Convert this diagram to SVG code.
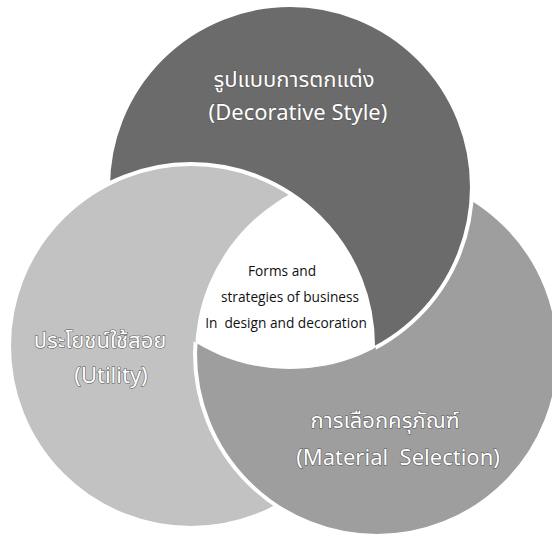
<svg xmlns="http://www.w3.org/2000/svg" width="552" height="539" viewBox="0 0 552 539">
  <style>
    .ring { stroke: #ffffff; stroke-width: 4; }
    .top { fill: #6b6b6b; }
    .left { fill: #c2c2c2; }
    .br { fill: #9e9e9e; }
    .lbl { font-family: "Noto Sans", "Noto Sans Thai", "Open Sans", "DejaVu Sans", sans-serif; font-size: 22px; fill: #ffffff; stroke: #555555; stroke-width: 1.1; paint-order: stroke; text-anchor: middle; }
    .mid { font-family: "Open Sans", "Noto Sans", sans-serif; font-size: 13.7px; fill: #111111; text-anchor: middle; }
  </style>
  <defs>
    <clipPath id="clipTop"><circle cx="290" cy="187" r="182"/></clipPath>
    <clipPath id="clipLeft"><circle cx="191" cy="346" r="182"/></clipPath>
    <mask id="maskBrOverLeft" maskUnits="userSpaceOnUse" x="0" y="0" width="552" height="539">
      <circle cx="191" cy="346" r="185" fill="#ffffff"/>
      <circle cx="290" cy="187" r="182" fill="#000000"/>
    </mask>
  </defs>

  <g id="node-material">
    <circle class="br ring" cx="377" cy="354" r="182"/>
  </g>
  <g id="node-decorative">
    <circle class="top ring" cx="290" cy="187" r="182"/>
  </g>
  <g id="node-utility">
    <circle class="left ring" cx="191" cy="346" r="182"/>
  </g>
  <g id="node-material-overlap" mask="url(#maskBrOverLeft)">
    <circle class="br ring" cx="377" cy="354" r="182"/>
  </g>
  <g id="node-center">
    <g clip-path="url(#clipLeft)">
      <circle cx="377" cy="354" r="182" fill="#ffffff" clip-path="url(#clipTop)"/>
    </g>
  </g>

  <g id="labels">
    <text class="lbl" x="294" y="87">รูปแบบการตกแต่ง</text>
    <text class="lbl" x="298" y="120">(Decorative Style)</text>
    <text class="lbl" x="100" y="348">ประโยชน์ใช้สอย</text>
    <text class="lbl" x="111" y="383">(Utility)</text>
    <text class="lbl" x="385" y="428">การเลือกครุภัณฑ์</text>
    <text class="lbl" x="398" y="465" xml:space="preserve">(Material  Selection)</text>
    <text class="mid" x="282" y="276">Forms and</text>
    <text class="mid" x="290" y="302">strategies of business</text>
    <text class="mid" x="286" y="328" xml:space="preserve">In  design and decoration</text>
  </g>
</svg>
